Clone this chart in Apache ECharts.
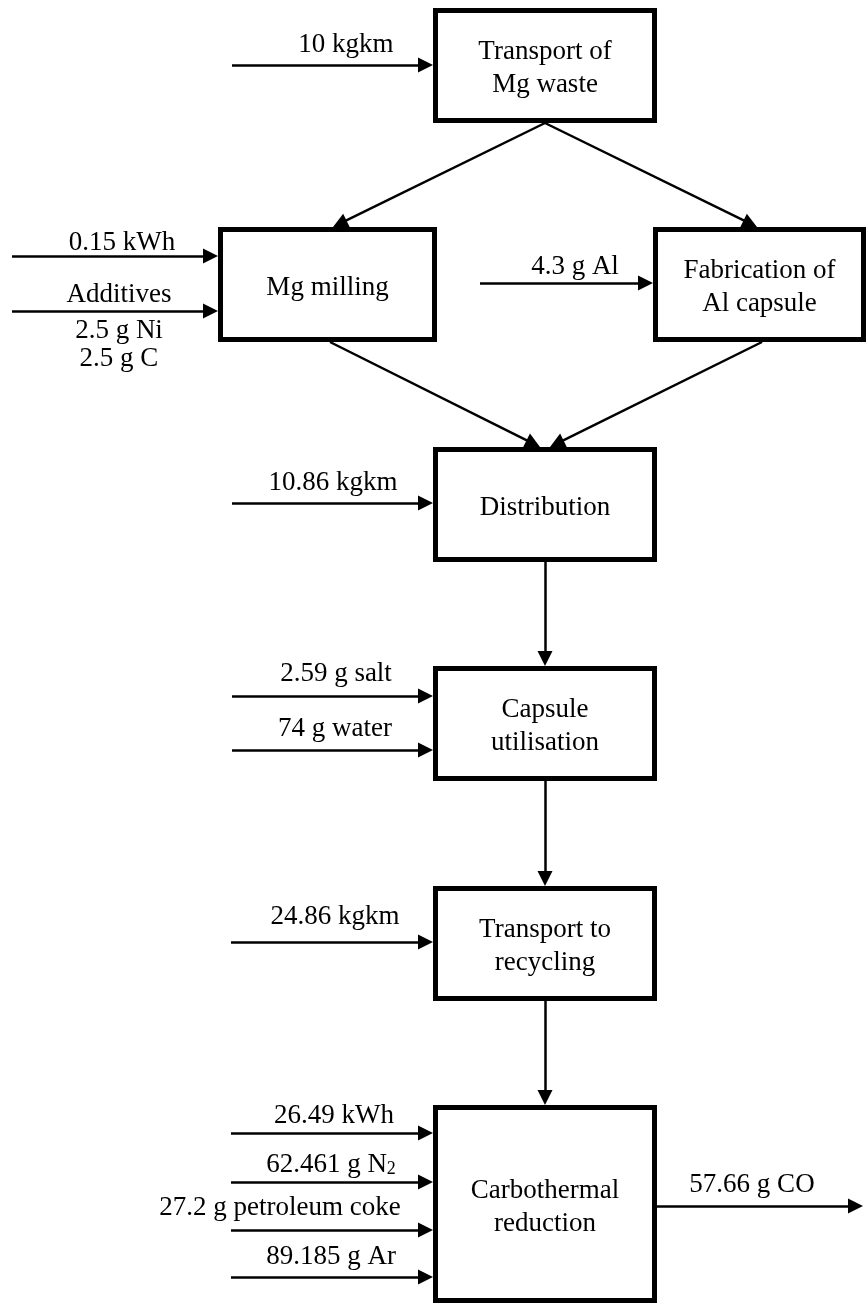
<!DOCTYPE html>
<html>
<head>
<meta charset="utf-8">
<title>Mg capsule life cycle</title>
<script src="https://cdn.jsdelivr.net/npm/echarts@6/dist/echarts.min.js"></script>
<style>
  html, body { margin: 0; padding: 0; background: #fff; }
  #chart { width: 867px; height: 1303px; }
</style>
</head>
<body>
<div id="chart"></div>
<script>
// process steps, top to bottom
const processNames = [
  'Transport of\nMg waste',
  'Mg milling',
  'Fabrication of\nAl capsule',
  'Distribution',
  'Capsule\nutilisation',
  'Transport to\nrecycling',
  'Carbothermal\nreduction'
]
// inputs entering each step
const inputLabels = [
  '10 kgkm', '0.15 kWh', 'Additives', '4.3 g Al', '10.86 kgkm',
  '2.59 g salt', '74 g water', '24.86 kgkm',
  '26.49 kWh', '62.461 g N{s|2}', '27.2 g petroleum coke', '89.185 g Ar'
]
const inputTargets = [0, 1, 1, 2, 3, 4, 4, 5, 6, 6, 6, 6]
const additiveLabels = ['2.5 g Ni', '2.5 g C']
const outputLabels = ['57.66 g CO']

// layout (page pixels)
const processBoxes = [
  [433, 8, 657, 123],
  [218, 227, 437, 342],
  [653, 227, 866, 342],
  [433, 447, 657, 562],
  [433, 666, 657, 781],
  [433, 886, 657, 1001],
  [433, 1105, 657, 1303]
]
const flowPaths = [
  [545, 123, 333, 227],
  [545, 123, 757, 227],
  [330, 342, 540, 447],
  [762, 342, 550, 447],
  [545, 562, 545, 666],
  [545, 781, 545, 886],
  [545, 1001, 545, 1105]
]
const inputStartX = [232, 12, 12, 480, 232, 232, 232, 231, 231, 231, 231, 231]
const inputArrowY = [65, 256, 311, 283, 503, 696, 750, 942, 1133, 1182, 1230, 1277]
const inputLabelPos = [
  [346, 45], [122, 243], [119, 295], [575, 267], [333, 483],
  [336, 674], [335, 729], [335, 917],
  [334, 1116], [331, 1165], [280, 1208], [331, 1257]
]
const additiveLabelPos = [[119, 331], [119, 359]]
const outputArrow = [657, 1206, 863, 1206]
const outputLabelPos = [752, 1185]

const W = 867
const H = 1303
const FONT = 'Liberation Serif'
const BORDER = 5
const HEAD = [16, 15]

function arrow (x0, y0, x1, y1) {
  // pull the end back so the triangle tip lands on the target
  const dx = x1 - x0
  const dy = y1 - y0
  const len = Math.sqrt(dx * dx + dy * dy)
  const k = (HEAD[1] / 2) / len
  return { coords: [[x0, y0], [x1 - dx * k, y1 - dy * k]] }
}

let arrowData = flowPaths.map(p => arrow(p[0], p[1], p[2], p[3]))
inputLabels.forEach((l, i) => {
  arrowData.push(arrow(inputStartX[i], inputArrowY[i], processBoxes[inputTargets[i]][0], inputArrowY[i]))
})
arrowData.push(arrow(outputArrow[0], outputArrow[1], outputArrow[2], outputArrow[3]))

let labelData = inputLabels.map((l, i) => [inputLabelPos[i][0], inputLabelPos[i][1], l])
additiveLabels.forEach((l, i) => labelData.push([additiveLabelPos[i][0], additiveLabelPos[i][1], l]))
outputLabels.forEach(l => labelData.push([outputLabelPos[0], outputLabelPos[1], l]))

let chart = echarts.init(document.getElementById('chart'))
chart.setOption({
  animation: false,
  backgroundColor: '#fff',
  grid: { left: 0, right: 0, top: 0, bottom: 0 },
  xAxis: { type: 'value', min: 0, max: W, show: false },
  yAxis: { type: 'value', min: 0, max: H, inverse: true, show: false },
  series: [
    {
      type: 'lines',
      coordinateSystem: 'cartesian2d',
      silent: true,
      symbol: ['none', 'triangle'],
      symbolSize: HEAD,
      lineStyle: { color: '#000', width: 2.5, opacity: 1 },
      data: arrowData,
      z: 2
    },
    {
      type: 'custom',
      silent: true,
      data: processBoxes.map(b => b.slice()),
      encode: { x: [0, 2], y: [1, 3] },
      renderItem: function (params, api) {
        const p0 = api.coord([api.value(0), api.value(1)])
        const p1 = api.coord([api.value(2), api.value(3)])
        const h = BORDER / 2
        return {
          type: 'group',
          children: [
            {
              type: 'rect',
              shape: { x: p0[0] + h, y: p0[1] + h, width: p1[0] - p0[0] - BORDER, height: p1[1] - p0[1] - BORDER },
              style: { fill: '#fff', stroke: '#000', lineWidth: BORDER }
            },
            {
              type: 'text',
              x: (p0[0] + p1[0]) / 2,
              y: (p0[1] + p1[1]) / 2 + 3,
              style: {
                text: processNames[params.dataIndex],
                align: 'center',
                verticalAlign: 'middle',
                fontFamily: FONT,
                fontSize: 27,
                lineHeight: 33,
                fill: '#000'
              }
            }
          ]
        }
      },
      z: 3
    },
    {
      type: 'scatter',
      silent: true,
      symbolSize: 0,
      itemStyle: { opacity: 1 },
      data: labelData,
      label: {
        show: true,
        position: 'inside',
        color: '#000',
        opacity: 1,
        fontFamily: FONT,
        fontSize: 27,
        formatter: p => p.data[2],
        rich: {
          s: { fontFamily: FONT, fontSize: 18, color: '#000', verticalAlign: 'bottom', lineHeight: 12 }
        }
      },
      z: 4
    }
  ]
})
</script>
</body>
</html>
